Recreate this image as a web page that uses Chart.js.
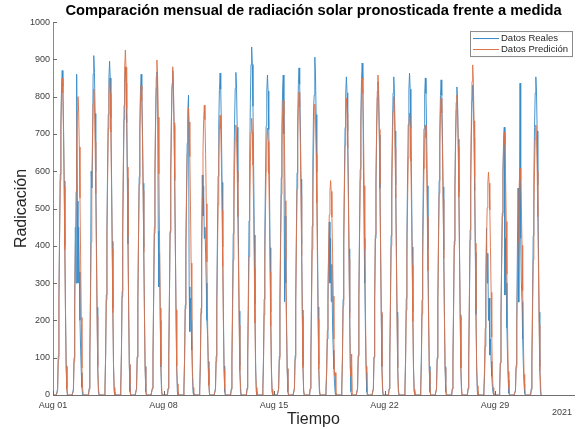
<!DOCTYPE html>
<html lang="es">
<head>
<meta charset="utf-8">
<title>Radiación solar - agosto 2021</title>
<script src="https://cdn.jsdelivr.net/npm/chart.js@4.4.1/dist/chart.umd.min.js"></script>
<style>
  html, body { margin: 0; padding: 0; background: #ffffff; }
  #marco { width: 577px; height: 429px; }
</style>
</head>
<body>
<div id="marco"><canvas id="grafico" width="577" height="429"></canvas></div>
<script>
// Horas del día con valores registrados (06:00 a 22:00); fuera de ellas la radiación es 0
const horasDia = [6, 7, 8, 9, 10, 11, 12, 13, 14, 15, 16, 17, 18, 19, 20, 21, 22];

// Radiación medida, un renglón por día (1 a 31 de agosto de 2021)
const datosReales = [
  [0,17,104,261,435,592,731,827,870,827,722,574,400,226,78,20,0],
  [0,15,100,270,450,300,860,520,300,450,330,200,120,60,20,0,0],
  [0,18,110,280,600,555,625,860,910,865,755,600,420,235,80,10,0],
  [0,18,107,268,448,610,752,850,895,850,743,590,412,233,80,8,0],
  [0,18,106,264,440,598,739,836,880,836,730,581,405,229,79,9,0],
  [0,17,103,258,430,585,722,817,860,817,714,568,396,224,77,9,0],
  [0,17,104,260,433,589,727,823,866,820,440,290,380,200,75,9,0],
  [0,17,104,261,435,592,731,827,870,827,722,574,400,226,78,9,0],
  [0,16,96,241,402,547,675,764,804,290,170,260,200,120,50,5,0],
  [0,10,80,220,400,590,480,560,420,450,380,300,200,160,90,30,0],
  [0,17,104,259,432,587,725,820,863,820,716,570,397,224,78,9,0],
  [0,17,104,260,433,588,727,822,865,822,718,571,398,225,78,9,0],
  [0,19,112,280,467,634,784,886,933,886,774,616,429,243,84,9,0],
  [0,17,103,257,429,583,721,815,858,815,712,566,395,223,77,9,0],
  [0,17,103,257,429,583,721,815,858,700,250,480,300,180,70,9,0],
  [0,18,105,263,439,596,737,833,877,833,728,579,403,228,79,9,0],
  [0,18,109,272,453,616,761,804,906,861,752,598,417,236,82,9,0],
  [0,10,60,150,250,380,464,300,420,250,350,180,120,70,30,5,0],
  [0,17,102,256,427,580,717,810,853,810,708,563,392,222,77,9,0],
  [0,18,107,267,445,605,748,846,890,846,600,420,300,169,60,9,0],
  [0,17,101,252,420,571,706,798,840,798,697,554,386,218,76,9,0],
  [0,17,102,256,427,580,717,810,853,810,708,563,392,222,77,9,0],
  [0,17,104,259,432,587,725,820,863,820,716,570,397,224,78,9,0],
  [0,17,102,255,425,578,714,808,850,808,706,561,391,221,77,9,0],
  [0,17,101,254,423,575,710,803,845,803,701,558,389,220,76,9,0],
  [0,17,99,248,413,562,694,785,826,785,686,545,380,215,74,9,0],
  [0,17,100,249,416,565,698,789,831,789,690,548,382,216,75,9,0],
  [0,8,50,130,287,448,300,380,200,260,107,150,90,50,20,5,0],
  [0,14,86,215,359,488,603,682,718,268,420,300,180,100,40,5,0],
  [0,12,80,200,400,555,249,480,836,420,300,250,150,80,30,5,0],
  [0,17,102,256,427,580,717,810,853,810,708,563,392,222,77,9,0]
];

// Radiación pronosticada por el modelo, mismo formato
const datosPrediccion = [
  [0,10,95,250,420,575,712,808,850,810,705,560,390,220,76,15,0],
  [0,10,90,235,395,545,672,760,800,760,665,528,368,208,72,18,0],
  [0,15,98,246,410,558,690,780,820,780,680,540,378,213,74,25,0],
  [0,17,102,255,425,578,714,808,850,808,705,561,391,221,77,20,0],
  [0,19,111,278,463,629,777,879,925,879,768,611,426,241,83,30,0],
  [0,17,100,249,415,564,697,789,830,789,689,548,382,216,75,22,0],
  [0,18,108,269,449,611,754,853,898,853,745,593,413,233,81,25,0],
  [0,18,106,264,440,598,739,836,880,836,730,581,405,229,79,30,0],
  [0,15,92,231,385,524,647,732,770,732,639,508,354,200,69,20,0],
  [0,16,93,233,389,528,653,738,777,738,645,513,357,202,70,25,0],
  [0,15,90,225,375,510,630,713,750,713,623,495,345,195,68,20,0],
  [0,14,87,217,362,492,608,688,724,688,601,478,333,188,65,30,0],
  [0,15,89,223,371,505,623,705,742,705,616,490,341,193,67,20,0],
  [0,14,86,215,358,487,601,680,716,680,594,473,329,186,64,15,0],
  [0,16,95,237,395,537,664,751,790,751,656,521,363,205,71,15,0],
  [0,16,97,244,406,552,682,771,812,771,674,536,374,211,73,15,0],
  [0,16,94,234,390,530,655,741,780,741,647,515,359,203,70,20,0],
  [0,12,69,173,288,391,483,546,575,546,477,380,265,150,52,60,0],
  [0,16,96,239,398,541,669,756,796,756,661,525,366,207,72,50,110],
  [0,17,102,255,425,578,714,808,850,808,706,561,391,221,77,60,0],
  [0,17,103,257,429,583,721,815,858,815,712,566,395,223,77,25,0],
  [0,16,96,240,400,544,672,760,800,760,664,528,368,208,72,20,0],
  [0,15,91,227,378,514,635,718,756,718,627,499,348,197,68,15,0],
  [0,14,87,217,362,492,608,688,724,688,601,478,333,188,65,30,0],
  [0,16,96,239,398,541,669,756,796,756,661,525,366,207,72,35,0],
  [0,16,96,241,402,547,675,764,804,764,667,531,370,209,72,20,0],
  [0,18,106,266,443,602,743,841,885,841,735,584,407,230,80,25,0],
  [0,12,72,179,299,407,502,568,598,568,496,395,275,155,54,20,0],
  [0,14,85,212,353,479,592,670,705,670,585,465,324,183,63,20,0],
  [0,12,73,182,304,413,511,578,608,578,505,401,280,158,55,20,0],
  [0,14,87,217,362,492,608,688,724,688,601,478,333,188,65,40,0]
];

// Marcas del eje temporal (horas desde el 1 de agosto, 00:00)
const horasMarca = [0, 168, 336, 504, 672];
const etiquetasMarca = ['Aug 01', 'Aug 08', 'Aug 15', 'Aug 22', 'Aug 29'];
const anio = '2021';
const nombresSeries = ['Datos Reales', 'Datos Predición'];

const FUENTE = '"Liberation Sans", Arial, Helvetica, sans-serif';
const azul = '#3589c6';
const naranja = '#dc7247';

// Serie horaria continua: cada día ocupa 24 horas, con 0 durante la noche
function serieHoraria(dias) {
  const puntos = [];
  dias.forEach((valores, d) => {
    for (let h = 0; h < 24; h++) {
      const i = horasDia.indexOf(h);
      puntos.push({ x: d * 24 + h, y: i >= 0 ? valores[i] : 0 });
    }
  });
  return puntos;
}

// Marcas interiores de los ejes, rótulo del año y leyenda enmarcada
const decoracion = {
  id: 'decoracion',
  afterDraw(chart) {
    const { ctx, chartArea: a, scales: { x, y } } = chart;
    ctx.save();
    ctx.strokeStyle = '#6a6a6a';
    ctx.lineWidth = 1;
    ctx.beginPath();
    y.ticks.forEach(t => {
      const py = Math.round(y.getPixelForValue(t.value)) + 0.5;
      ctx.moveTo(a.left, py);
      ctx.lineTo(a.left + 4, py);
    });
    x.ticks.forEach(t => {
      const px = Math.round(x.getPixelForValue(t.value)) + 0.5;
      ctx.moveTo(px, a.bottom);
      ctx.lineTo(px, a.bottom - 4);
    });
    ctx.stroke();

    ctx.fillStyle = '#404040';
    ctx.font = '9px ' + FUENTE;
    ctx.textAlign = 'center';
    ctx.textBaseline = 'middle';
    ctx.fillText(anio, a.right - 12, a.bottom + 18);

    // Leyenda
    const lx = a.right - 104, ly = a.top + 9, lw = 102, lh = 25;
    ctx.fillStyle = '#ffffff';
    ctx.fillRect(lx, ly, lw, lh);
    ctx.strokeStyle = '#8a8a8a';
    ctx.strokeRect(lx + 0.5, ly + 0.5, lw, lh);
    ctx.font = '9.5px ' + FUENTE;
    ctx.textAlign = 'left';
    chart.data.datasets.forEach((ds, i) => {
      const cy = ly + 7 + i * 11;
      ctx.strokeStyle = ds.borderColor;
      ctx.lineWidth = 1;
      ctx.beginPath();
      ctx.moveTo(lx + 3, cy + 0.5);
      ctx.lineTo(lx + 29, cy + 0.5);
      ctx.stroke();
      ctx.fillStyle = '#262626';
      ctx.fillText(ds.label, lx + 31, cy);
    });
    ctx.restore();
  }
};

new Chart(document.getElementById('grafico'), {
  type: 'line',
  data: {
    datasets: [
      {
        label: nombresSeries[0],
        data: serieHoraria(datosReales),
        borderColor: azul,
        borderWidth: 0.9,
        pointRadius: 0,
        tension: 0,
        order: 2
      },
      {
        label: nombresSeries[1],
        data: serieHoraria(datosPrediccion),
        borderColor: naranja,
        borderWidth: 0.9,
        pointRadius: 0,
        tension: 0,
        order: 1
      }
    ]
  },
  options: {
    responsive: false,
    maintainAspectRatio: false,
    devicePixelRatio: 1,
    animation: false,
    events: [],
    layout: { padding: { left: 0, right: 3, top: 0, bottom: 0 } },
    plugins: {
      legend: { display: false },
      tooltip: { enabled: false },
      title: {
        display: true,
        text: 'Comparación mensual de radiación solar pronosticada frente a medida',
        fullSize: false,
        color: '#000000',
        font: { family: FUENTE, size: 14.7, weight: 'bold', lineHeight: 1.2 },
        padding: { top: 2.5, bottom: 1.9 }
      }
    },
    scales: {
      x: {
        type: 'linear',
        min: 0,
        max: 792,
        afterBuildTicks: s => { s.ticks = horasMarca.map(v => ({ value: v })); },
        afterFit: s => { s.height = 34; },
        ticks: {
          autoSkip: false,
          maxRotation: 0,
          padding: 5,
          color: '#404040',
          font: { family: FUENTE, size: 9 },
          callback: v => etiquetasMarca[horasMarca.indexOf(v)]
        },
        grid: { display: false, drawTicks: false },
        border: { display: true, color: '#707070', width: 1 },
        title: {
          display: true,
          text: 'Tiempo',
          color: '#262626',
          font: { family: FUENTE, size: 16, lineHeight: 1.2 },
          padding: { top: 0, bottom: 0 }
        }
      },
      y: {
        min: 0,
        max: 1000,
        afterFit: s => { s.width = 53; },
        ticks: {
          stepSize: 100,
          padding: 3,
          color: '#404040',
          font: { family: FUENTE, size: 9 },
          callback: v => String(v)
        },
        grid: { display: false, drawTicks: false },
        border: { display: true, color: '#8a8a8a', width: 1 },
        title: {
          display: true,
          text: 'Radicación',
          color: '#262626',
          font: { family: FUENTE, size: 16, lineHeight: 1.2 },
          padding: { top: 12, bottom: 0 }
        }
      }
    }
  },
  plugins: [decoracion]
});
</script>
</body>
</html>
